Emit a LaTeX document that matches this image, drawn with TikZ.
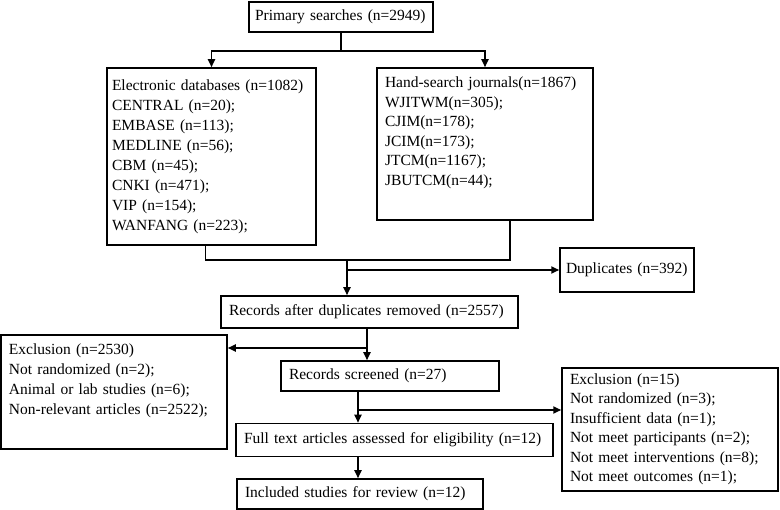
\documentclass[tikz,border=0pt]{standalone}
\usepackage{fontspec}
\setmainfont{Liberation Serif}
\usetikzlibrary{arrows.meta}
\tikzset{
  box/.style={draw, line width=1.5pt, inner xsep=8pt, inner ysep=0pt, align=left, font=\fontsize{15.5}{19.5}\selectfont},
  widebox/.style={box, font=\fontsize{15.5}{20}\selectfont},
  link/.style={line width=1.8pt},
  arr/.style={link, -{Triangle[length=8pt,width=7pt]}}
}
\begin{document}
\begin{tikzpicture}[x=1pt,y=-1pt]
		%%%%% START %%%%%
		\useasboundingbox (0,0) rectangle (780,510);
		
		\node[box, inner xsep=6pt, text width=172pt, minimum height=30pt] (prim) at (341,17) {Primary searches~(n=2949)};
		
		\node[widebox, inner xsep=5pt, text width=199pt, minimum height=177pt] (elec) at (211.5,156.5) {Electronic databases (n=1082)\\ CENTRAL (n=20);\\ EMBASE (n=113);\\ MEDLINE (n=56);\\ CBM (n=45);\\ CNKI (n=471);\\ VIP (n=154);\\ WANFANG (n=223);};
		\node[box, text width=200pt, minimum height=152pt] (hand) at (485,144) {Hand-search journals(n=1867)\\ WJITWM(n=305);\\ CJIM(n=178);\\ JCIM(n=173);\\ JTCM(n=1167);\\ JBUTCM(n=44);\\ \strut};
		
		\node[box, inner xsep=6pt, text width=122pt, minimum height=44pt] (dup) at (627,270) {Duplicates~(n=392)};
		\node[box, text width=281pt, minimum height=32pt] (after) at (369.5,312) {Records after duplicates removed (n=2557)};
		
		\node[widebox, text width=210pt, minimum height=114pt] (exl) at (114,392) {Exclusion (n=2530)\\ Not randomized (n=2);\\ Animal or lab studies (n=6);\\ Non-relevant articles (n=2522);\\ \strut};
		\node[box, text width=202pt, minimum height=30pt] (screened) at (390,376) {Records screened (n=27)};
		
		\node[box, text width=200pt, minimum height=123pt] (exr) at (670,429.5) {Exclusion (n=15)\\ Not randomized (n=3);\\ Insufficient data (n=1);\\ Not meet participants (n=2);\\ Not meet interventions (n=8);\\ Not meet outcomes (n=1);};
		\node[box, text width=301pt, minimum height=33pt] (full) at (394.5,440) {Full text articles assessed for eligibility (n=12)};
		\node[box, text width=230pt, minimum height=30pt] (incl) at (360,494) {Included studies for review (n=12)};
		
		% split of the primary searches
		\draw[arr] (prim.south) -- ++(0,18) -| (elec.north);
		\draw[arr] (prim.south) -- ++(0,18) -| (hand.north);
		
		% merge of both sources
		\coordinate (merge) at (347,260);
		\draw[link] ([xshift=-6pt]elec.south) |- (merge) -| ([xshift=25pt]hand.south);
		\draw[arr] (merge) -- (merge |- after.north);
		\draw[arr] (merge |- dup.west) -- (dup.west);
		
		\coordinate (cut1) at (367,348);
		\draw[arr] (cut1 |- after.south) -- (cut1 |- screened.north);
		\draw[arr] (cut1) -- (cut1 -| exl.east);
		
		\coordinate (cut2) at (358,410);
		\draw[arr] (cut2 |- screened.south) -- (cut2 |- full.north);
		\draw[arr] (cut2) -- (cut2 -| exr.west);
		\draw[arr] (cut2 |- full.south) -- (cut2 |- incl.north);
		
		%%%%% END %%%%%
\end{tikzpicture}
\end{document}
